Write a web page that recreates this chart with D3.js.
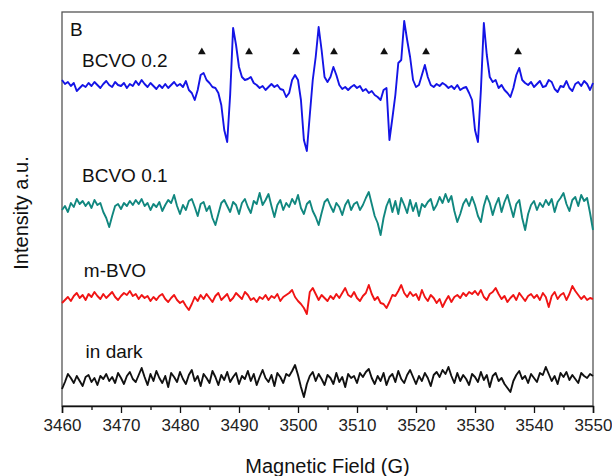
<!DOCTYPE html>
<html lang="en">
<head>
  <meta charset="UTF-8">
  <title>EPR spectra</title>
  <script src="https://d3js.org/d3.v7.min.js"></script>
  <style>
    body {
      margin: 0;
      background: #fff;
      font-family: "Liberation Sans", Arial, Helvetica, sans-serif;
    }
    svg { display: block; }
    .tick text { font-size: 17px; fill: #222; }
    .label { font-size: 19px; fill: #111; }
  </style>
</head>
<body>
  <svg width="612" height="476"></svg>
  <script>
    // field axis: 3460 .. 3550 G, one reading every 0.5 G
    const fieldStart = 3460, fieldStep = 0.5;
    const majorTicks = [3460, 3470, 3480, 3490, 3500, 3510, 3520, 3530, 3540, 3550];
    const minorTicks = [3465, 3475, 3485, 3495, 3505, 3515, 3525, 3535, 3545];

    const seriesNames = ["BCVO 0.2", "BCVO 0.1", "m-BVO", "in dark"];
    // vertical offset of each trace (a.u.)
    const offsets = [321, 198, 108, 27];

    // signal (a.u.) relative to each trace's offset
    const bcvo02 = [
      5, 1, 3, -1, 2, -6, -3, 0, -2, 2,
      -1, 3, 0, -3, 1, 4, 0, -2, 3, 0,
      -1, 2, -3, 1, -1, 4, 0, 5, 1, -2,
      2, -1, -4, 0, -3, 1, -3, 0, 3, -1,
      1, -2, 4, -5, -8, -15, -5, 10, 12, 5,
      2, -2, -3, -8, -20, -45, -57, -10, 57, 40,
      18, 8, 5, 6, 8, 2, 0, -3, -1, -5,
      -2, 1, -2, 0, -4, -5, -12, -8, 5, 10,
      5, -15, -55, -66, -30, 5, 28, 58, 35, 8,
      3, 8, 18, 10, 0, -4, -2, -5, -2, 0,
      -3, -1, -6, -4, -8, -6, -10, -12, -15, -5,
      -3, -55, -33, -10, 22, 25, 64, 45, 28, 5,
      -2, 0, 10, 20, 8, 0, -2, 1, -1, 2,
      0, -3, -1, -4, 0, -5, -3, -2, -8, -15,
      -45, -57, -5, 62, 30, 8, 3, 5, -3, 0,
      -5, -8, -12, -3, 10, 17, 5, 2, 0, 3,
      -2, 1, 4, -2, -1, 5, 3, -4, -7, -1,
      -2, 4, -3, -6, 1, 3, -1, 4, 1, -5, 2
    ];
    const bcvo01 = [
      -2, 2, -4, 5, 1, 9, 4, 7, 2, 6,
      0, 8, 3, 5, -4, -10, -19, -8, 2, 4,
      -1, 5, 2, 7, 3, 8, 4, 9, 2, 5,
      -2, 4, 1, 6, -3, 3, 8, 5, 13, 2,
      -6, 3, -2, 7, 9, 1, -8, 4, 6, -3,
      2, -10, -17, -6, 5, 8, 2, -4, 6, 3,
      -6, 5, 9, 1, -5, 7, 4, 15, 3, 8,
      14, 2, -9, 3, 8, -2, 5, 1, 9, 4,
      13, 0, -6, 4, 7, -3, -9, -17, -5, 6,
      9, 2, -4, 5, 1, -7, 3, 8, -2, 4,
      6, -2, 3, 10, 16, 4, -8, -15, -27, -10,
      2, 9, -4, 7, -6, 10, 3, -5, 8, -3,
      5, -8, 4, 1, 6, 9, -2, 3, 11, 5,
      14, 6, 12, -3, -14, -6, 4, 9, 2, 11,
      3, -8, -14, 2, 12, 5, -7, 3, 10, -4,
      6, 13, 2, -9, 4, 8, -10, -22, -6, 3,
      7, -2, 5, 1, 8, 3, 9, -4, 6, 10,
      15, 4, -3, 8, 11, 2, 13, 7, 10, -5, -22
    ];
    const mBVO = [
      -5, -2, 1, -3, 2, 5, 0, 3, -2, 4,
      1, 6, 2, -1, 4, 0, 3, 6, 1, -2,
      2, 5, 3, 7, 2, 4, -1, 3, 0, 2,
      -3, 1, -2, 2, 4, -1, -4, 0, 3, -2,
      -5, -3, -8, -12, -6, 1, -3, 3, -1, 4,
      0, -4, 2, 5, -2, 1, 4, -3, 0, 5,
      2, -1, 6, 3, -2, 0, -4, 1, -1, 3,
      -2, 2, 0, 4, -3, 1, 3, 5, 8, 1,
      -3, -6, -10, -16, 6, 10, 4, -2, 3, 0,
      -3, 2, -1, 4, 0, 5, 10, 3, 1, 6,
      0, -3, 2, 5, 13, 4, -2, 1, -5, -6,
      -10, -4, 3, 2, 7, 13, 5, 1, 6, 2,
      4, -2, 8, 1, -3, 3, 0, -5, -1, -9,
      -3, 2, -4, 1, 3, 0, 5, 2, 6, 4,
      7, 3, 8, 1, -2, 4, 6, 10, 4, -1,
      2, -4, 0, 3, -2, 5, 1, -3, 2, 4,
      0, 3, -2, 5, 1, -9, 2, 6, -1, 3,
      5, -2, 4, 12, 7, 3, -1, 2, -2, 0, -1
    ];
    const inDark = [
      -10, -3, 5, 1, -4, 3, -2, -7, 2, 4,
      -3, 1, -6, 3, 0, 5, -2, 2, -4, 6,
      1, -5, 3, 7, 0, -3, 4, 11, 2, -6,
      5, -2, 8, 1, -4, 3, -8, 6, 2, -3,
      7, 0, -5, 4, 9, -2, 3, -7, 5, 1,
      -4, 8, 2, -6, 4, -1, 7, -3, 2, 6,
      -5, 3, 0, 8, -2, 5, -6, 2, 9, 1,
      -3, 4, -7, 6, 2, -4, 5, 3, 8, 14,
      4, -8, -18, -5, 3, 7, -2, 5, 0, -6,
      4, 1, -5, 6, -3, 2, -8, 5, 1, 3,
      -4, 6, 2, 7, 10, 1, -5, 3, -2, 6,
      -6, 2, 5, -3, 8, 0, -4, 4, 9, 2,
      -5, 3, -2, 6, 1, -7, 4, 7, 2, 9,
      5, 12, 3, -4, 6, -2, 4, 0, -6, 5,
      2, -3, 7, -1, 4, -8, 3, 6, -2, 1,
      -5, -9, -13, -2, 4, 8, 0, 3, -4, 5,
      1, -3, 6, 4, 12, 5, -2, 3, -5, 6,
      2, 7, -1, 4, 0, -4, 6, 3, 1, 5, 3
    ];

    // hyperfine markers (field, G) above the BCVO 0.2 trace
    const markerFields = [3483.7, 3491.7, 3499.7, 3506.1, 3514.6, 3521.7, 3537.3];
    const markerLevel = 354;

    // label anchors: field (G) and intensity (a.u.)
    const labelFields = [3463.4, 3463.4, 3463.7, 3464.0];
    const labelLevels = [339, 224, 129, 48];

    const colors = ["#1414e6", "#11877f", "#f01414", "#111111"];
    const allSeries = [bcvo02, bcvo01, mBVO, inDark];

    const svg = d3.select("svg");
    const margin = { top: 12, right: 19, bottom: 70, left: 62 };
    const width = 612 - margin.left - margin.right;
    const height = 476 - margin.top - margin.bottom;

    const x = d3.scaleLinear().domain([3460, 3550]).range([0, width]);
    const y = d3.scaleLinear().domain([0, 394]).range([height, 0]);

    const g = svg.append("g")
      .attr("transform", `translate(${margin.left},${margin.top})`);

    // frame
    g.append("rect")
      .attr("width", width)
      .attr("height", height)
      .attr("fill", "none")
      .attr("stroke", "#555")
      .attr("stroke-width", 1.3);

    // traces
    const line = d3.line()
      .x((d, i) => x(fieldStart + i * fieldStep))
      .y(d => y(d));

    allSeries.forEach((s, k) => {
      g.append("path")
        .datum(s.map(v => v + offsets[k]))
        .attr("fill", "none")
        .attr("stroke", colors[k])
        .attr("stroke-width", 1.9)
        .attr("stroke-linejoin", "round")
        .attr("d", line);
    });

    // triangles
    g.selectAll(".marker")
      .data(markerFields)
      .enter().append("path")
      .attr("class", "marker")
      .attr("d", d3.symbol(d3.symbolTriangle, 26))
      .attr("transform", d => `translate(${x(d)},${y(markerLevel)})`)
      .attr("fill", "#111");

    // x axis with major and minor ticks
    const xAxis = g.append("g")
      .attr("transform", `translate(0,${height})`)
      .call(d3.axisBottom(x).tickValues(majorTicks).tickSize(7).tickPadding(6).tickFormat(d3.format("d")));
    xAxis.select(".domain").attr("stroke", "#111").attr("stroke-width", 1.5);
    xAxis.selectAll(".tick line").attr("stroke", "#111").attr("stroke-width", 1.3);

    const xMinor = g.append("g")
      .attr("transform", `translate(0,${height})`)
      .call(d3.axisBottom(x).tickValues(minorTicks).tickSize(4).tickFormat(""));
    xMinor.select(".domain").remove();
    xMinor.selectAll(".tick line").attr("stroke", "#111").attr("stroke-width", 1.3);

    // series labels
    g.selectAll(".series-label")
      .data(seriesNames)
      .enter().append("text")
      .attr("class", "label")
      .attr("x", (d, i) => x(labelFields[i]))
      .attr("y", (d, i) => y(labelLevels[i]))
      .text(d => d);

    // panel letter
    g.append("text")
      .attr("class", "label")
      .attr("x", 8)
      .attr("y", 24)
      .text("B");

    // axis titles
    svg.append("text")
      .attr("class", "label")
      .attr("text-anchor", "middle")
      .attr("x", margin.left + width / 2)
      .attr("y", 473)
      .style("font-size", "20px")
      .text("Magnetic Field (G)");

    svg.append("text")
      .attr("class", "label")
      .attr("text-anchor", "middle")
      .attr("transform", `translate(28,${margin.top + 201}) rotate(-90)`)
      .style("font-size", "20px")
      .text("Intensity a.u.")
  </script>
</body>
</html>
